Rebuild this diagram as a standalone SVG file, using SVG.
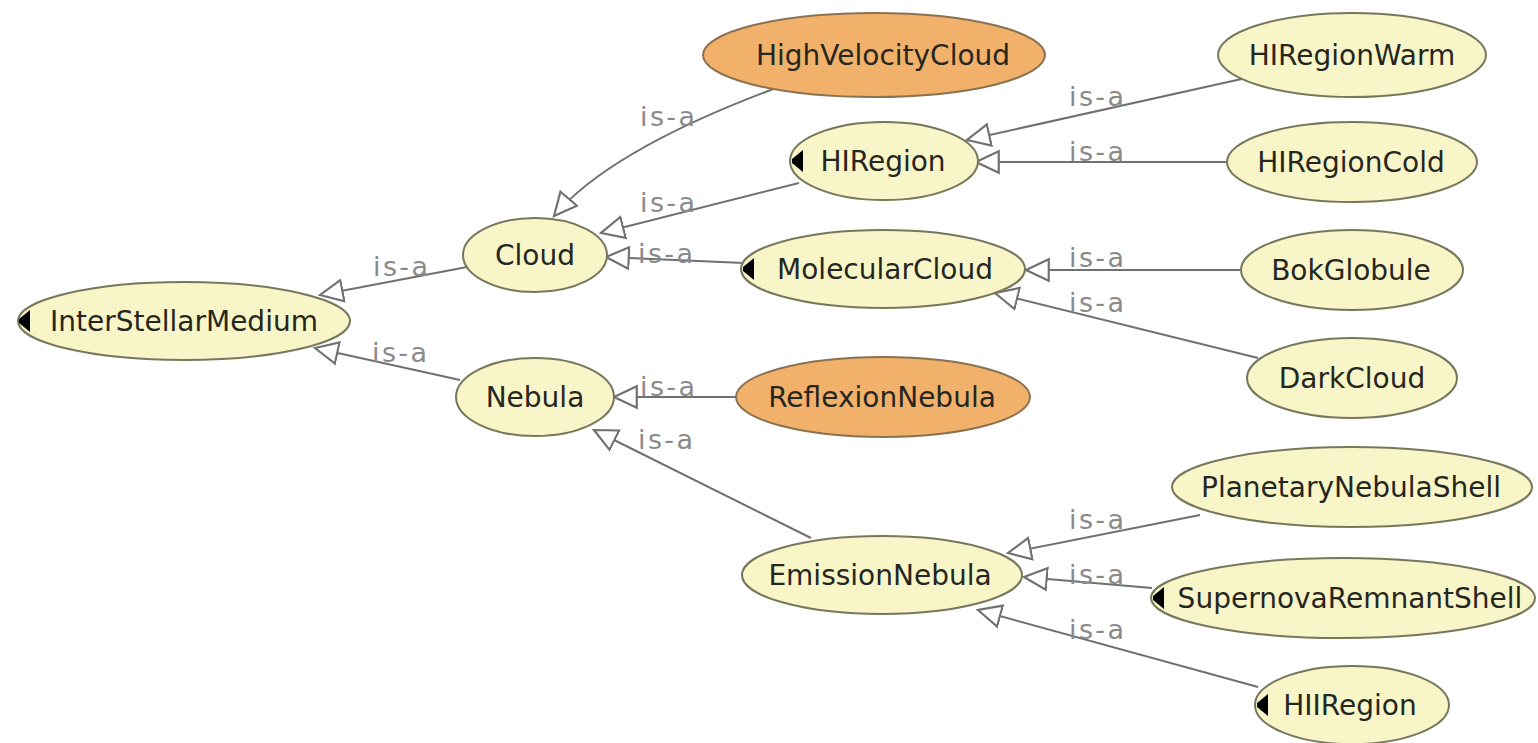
<svg xmlns="http://www.w3.org/2000/svg" width="1538" height="743" viewBox="0 0 1538 743">
<defs>
<style>
.node ellipse{fill:#f8f6c8;stroke:#77775c;stroke-width:2}
.node.orange ellipse{fill:#f2b16a;stroke:#8a7150}
.node text{font-family:"DejaVu Sans",sans-serif;font-size:28px;fill:#262620;text-anchor:middle}
.mark{fill:#000}
#edges path{fill:none;stroke:#707070;stroke-width:2;marker-end:url(#tri)}
#edges text{font-family:"DejaVu Sans",sans-serif;font-size:27px;fill:#8a8a8a}
</style>
<marker id="tri" markerUnits="userSpaceOnUse" markerWidth="26" markerHeight="26" refX="22" refY="11" orient="auto" viewBox="0 0 24 22">
<path d="M22 11 L1 1 L1 21 Z" fill="#fff" stroke="#707070" stroke-width="2"/>
</marker>
</defs>
<rect width="1538" height="743" fill="#fff"/>
<g id="edges">
<path d="M467 267 L320 295"/>
<path d="M460 380 L315 348"/>
<path d="M776 88 Q610 150 554 216"/>
<path d="M799 183 L601 233"/>
<path d="M744 263 L606 257"/>
<path d="M1246 78 L967 140"/>
<path d="M1227 162 L976 162"/>
<path d="M1242 270 L1026 270"/>
<path d="M1258 358 L995 293"/>
<path d="M737 397 L614 397"/>
<path d="M811 538 L594 430"/>
<path d="M1200 515 L1008 553"/>
<path d="M1152 588 L1024 577"/>
<path d="M1258 687 L978 610"/>
<text x="373" y="276" textLength="55">is-a</text>
<text x="372" y="362" textLength="55">is-a</text>
<text x="640" y="126" textLength="55">is-a</text>
<text x="640" y="212" textLength="55">is-a</text>
<text x="638" y="263" textLength="55">is-a</text>
<text x="1069" y="106" textLength="55">is-a</text>
<text x="1069" y="161" textLength="55">is-a</text>
<text x="1069" y="267" textLength="55">is-a</text>
<text x="1069" y="312" textLength="55">is-a</text>
<text x="640" y="396" textLength="55">is-a</text>
<text x="638" y="449" textLength="55">is-a</text>
<text x="1069" y="529" textLength="55">is-a</text>
<text x="1069" y="584" textLength="55">is-a</text>
<text x="1069" y="639" textLength="55">is-a</text>
</g>
<g id="InterStellarMedium" class="node"><ellipse cx="184" cy="321" rx="166" ry="39"/><path class="mark" d="M30 310 L30 332 L19 323 L19 319 Z"/><text x="184" y="331">InterStellarMedium</text></g>
<g id="Cloud" class="node"><ellipse cx="535" cy="255" rx="72" ry="37"/><text x="535" y="265">Cloud</text></g>
<g id="Nebula" class="node"><ellipse cx="535" cy="397" rx="79" ry="39"/><text x="535" y="407">Nebula</text></g>
<g id="HighVelocityCloud" class="node orange"><ellipse cx="874" cy="55" rx="171" ry="42"/><text x="883" y="65">HighVelocityCloud</text></g>
<g id="HIRegion" class="node"><ellipse cx="884" cy="161" rx="94" ry="39"/><path class="mark" d="M803 150 L803 172 L792 163 L792 159 Z"/><text x="883" y="171">HIRegion</text></g>
<g id="MolecularCloud" class="node"><ellipse cx="883" cy="269" rx="142" ry="39"/><path class="mark" d="M754 258 L754 280 L743 271 L743 267 Z"/><text x="885" y="279">MolecularCloud</text></g>
<g id="ReflexionNebula" class="node orange"><ellipse cx="883" cy="397" rx="147" ry="40"/><text x="882" y="407">ReflexionNebula</text></g>
<g id="EmissionNebula" class="node"><ellipse cx="882" cy="575" rx="140" ry="39"/><text x="880" y="585">EmissionNebula</text></g>
<g id="HIRegionWarm" class="node"><ellipse cx="1352" cy="55" rx="134" ry="42"/><text x="1352" y="65">HIRegionWarm</text></g>
<g id="HIRegionCold" class="node"><ellipse cx="1352" cy="162" rx="125" ry="40"/><text x="1351" y="172">HIRegionCold</text></g>
<g id="BokGlobule" class="node"><ellipse cx="1352" cy="270" rx="111" ry="40"/><text x="1351" y="280">BokGlobule</text></g>
<g id="DarkCloud" class="node"><ellipse cx="1352" cy="378" rx="105" ry="40"/><text x="1352" y="388">DarkCloud</text></g>
<g id="PlanetaryNebulaShell" class="node"><ellipse cx="1352" cy="487" rx="180" ry="40"/><text x="1351" y="497">PlanetaryNebulaShell</text></g>
<g id="SupernovaRemnantShell" class="node"><ellipse cx="1343" cy="598" rx="192" ry="40"/><path class="mark" d="M1164 587 L1164 609 L1153 600 L1153 596 Z"/><text x="1350" y="608">SupernovaRemnantShell</text></g>
<g id="HIIRegion" class="node"><ellipse cx="1352" cy="705" rx="97" ry="39"/><path class="mark" d="M1268 694 L1268 716 L1257 707 L1257 703 Z"/><text x="1350" y="715">HIIRegion</text></g>
</svg>
